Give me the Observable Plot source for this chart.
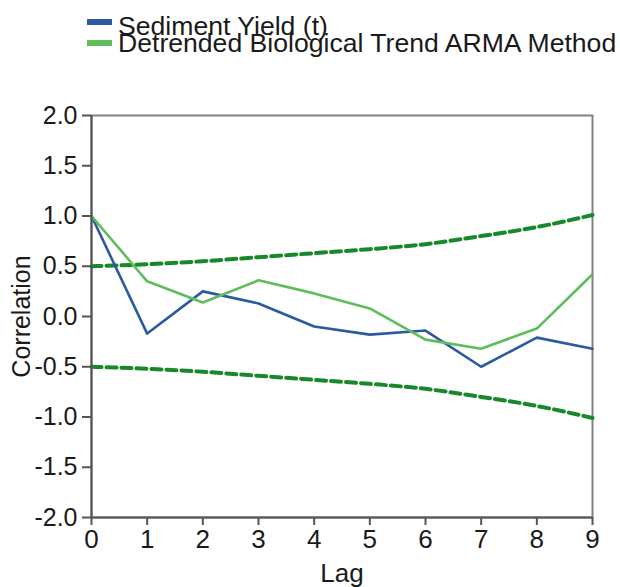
<!DOCTYPE html>
<html>
<head>
<meta charset="utf-8">
<script src="https://cdn.jsdelivr.net/npm/d3@7"></script>
<script src="https://cdn.jsdelivr.net/npm/@observablehq/plot@0.6"></script>
<style>
  html, body { margin: 0; padding: 0; background: #fff; }
  body { width: 620px; height: 587px; overflow: hidden; font-family: "Liberation Sans", Arial, sans-serif; }
  #legend { position: relative; height: 60px; width: 620px; }
  .item { position: absolute; left: 87px; font-size: 26.6px; color: #1a1a1a; white-space: nowrap; line-height: 26px; }
  .sw { position: absolute; left: 0; width: 25px; height: 6px; }
  .lbl { position: absolute; left: 31px; top: 0; }
</style>
</head>
<body>
<div id="legend"></div>
<div id="chart"></div>
<script>
const lags = [0, 1, 2, 3, 4, 5, 6, 7, 8, 9];
const sedimentYield = [1.0, -0.17, 0.25, 0.13, -0.10, -0.18, -0.14, -0.50, -0.21, -0.32];
const detrendedArma = [1.0, 0.35, 0.14, 0.36, 0.23, 0.08, -0.23, -0.32, -0.12, 0.42];
const upperBound = [0.50, 0.52, 0.55, 0.59, 0.63, 0.67, 0.72, 0.80, 0.89, 1.01];
const lowerBound = [-0.50, -0.52, -0.55, -0.59, -0.63, -0.67, -0.72, -0.80, -0.89, -1.01];
const yTicks = [-2.0, -1.5, -1.0, -0.5, 0.0, 0.5, 1.0, 1.5, 2.0];
const seriesNames = ["Sediment Yield (t)", "Detrended Biological Trend ARMA Method"];
const seriesColors = ["#2c5aa0", "#5dbe5a"];
const boundColor = "#17892b";

// legend
const legend = document.getElementById("legend");
seriesNames.forEach((name, i) => {
  const item = document.createElement("div");
  item.className = "item";
  item.style.top = (13 + i * 17) + "px";
  const sw = document.createElement("span");
  sw.className = "sw";
  sw.style.background = seriesColors[i];
  sw.style.top = (i === 0 ? 6 : 10) + "px";
  const lbl = document.createElement("span");
  lbl.className = "lbl";
  lbl.textContent = name;
  item.appendChild(sw);
  item.appendChild(lbl);
  legend.appendChild(item);
});

const toRows = (vals) => lags.map((l, i) => ({lag: l, value: vals[i]}));

const chart = Plot.plot({
  width: 620,
  height: 527,
  marginTop: 55,
  marginBottom: 70,
  marginLeft: 91,
  marginRight: 28,
  style: {fontFamily: "Liberation Sans, Arial, sans-serif", fontSize: "26px", color: "#1a1a1a", background: "#fff"},
  x: {domain: [0, 9]},
  y: {domain: [-2, 2]},
  marks: [
    Plot.frame({stroke: "#808080", strokeWidth: 2}),
    Plot.line(toRows(upperBound), {x: "lag", y: "value", stroke: boundColor, strokeWidth: 4, strokeDasharray: "10,5", curve: "monotone-x"}),
    Plot.line(toRows(lowerBound), {x: "lag", y: "value", stroke: boundColor, strokeWidth: 4, strokeDasharray: "10,5", curve: "monotone-x"}),
    Plot.line(toRows(sedimentYield), {x: "lag", y: "value", stroke: seriesColors[0], strokeWidth: 2.6}),
    Plot.line(toRows(detrendedArma), {x: "lag", y: "value", stroke: seriesColors[1], strokeWidth: 2.6}),
    Plot.ruleX([0], {stroke: "#555", strokeWidth: 2}),
    Plot.ruleY([-2], {stroke: "#555", strokeWidth: 2}),
    Plot.axisY({ticks: yTicks, tickFormat: d => d.toFixed(1), tickSize: 9, tickPadding: 5, stroke: "#555", strokeWidth: 2, fontSize: 25,
      label: "Correlation", labelAnchor: "center", labelArrow: false, labelOffset: 79}),
    Plot.axisX({ticks: lags, tickFormat: d => String(d), tickSize: 8, tickPadding: 4, stroke: "#555", strokeWidth: 2, fontSize: 26,
      label: "Lag", labelAnchor: "center", labelArrow: false, labelOffset: 64})
  ]
});
document.getElementById("chart").appendChild(chart);
</script>
</body>
</html>
